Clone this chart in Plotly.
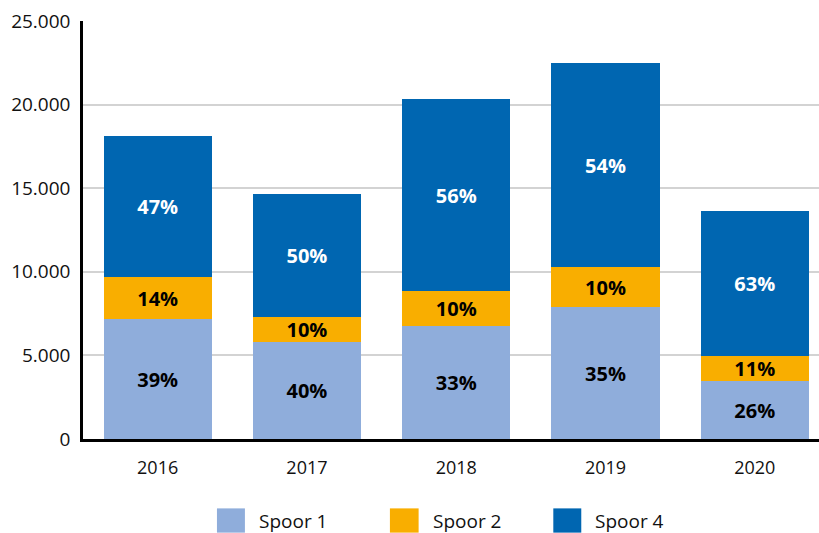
import plotly.graph_objects as go

# Jaarlijkse aantallen per spoor (gestapeld)
years = ["2016", "2017", "2018", "2019", "2020"]
spoor1 = [7160, 5806, 6760, 7876, 3461]
spoor2 = [2524, 1473, 2071, 2387, 1509]
spoor4 = [8454, 7381, 11515, 12231, 8694]

# Aandeel per spoor binnen elk jaar
pct1 = [39, 40, 33, 35, 26]
pct2 = [14, 10, 10, 10, 11]
pct4 = [47, 50, 56, 54, 63]

y_ticks = [0, 5000, 10000, 15000, 20000, 25000]

series = [
    ("Spoor 1", spoor1, pct1, "#8FADDB", "#000000"),
    ("Spoor 2", spoor2, pct2, "#F9AE00", "#000000"),
    ("Spoor 4", spoor4, pct4, "#0066B1", "#FFFFFF"),
]

FONT = "Open Sans"

fig = go.Figure()
for name, vals, pcts, color, tcolor in series:
    fig.add_trace(go.Bar(
        x=years, y=vals, name=name,
        marker=dict(color=color, line=dict(width=0)),
        text=[f"{p}%" for p in pcts],
        textposition="inside",
        insidetextanchor="middle",
        textangle=0,
        constraintext="none",
        textfont=dict(family=FONT, size=20, color=tcolor, weight="bold"),
        showlegend=False,
        hoverinfo="skip",
    ))

# Legenda: gekleurde blokjes met labels onder de grafiek
legend_x = [(0.182, 0.220, 0.236), (0.417, 0.456, 0.473), (0.639, 0.677, 0.693)]
for (name, _, _, color, _), (x0, x1, xt) in zip(series, legend_x):
    fig.add_shape(type="rect", xref="paper", yref="paper",
                  x0=x0, x1=x1, y0=-0.224, y1=-0.166,
                  fillcolor=color, line=dict(width=0))
    fig.add_annotation(text=name, xref="paper", yref="paper",
                       x=xt, y=-0.195, xanchor="left", yanchor="middle",
                       showarrow=False,
                       font=dict(family=FONT, size=19, color="#111111"))

fig.update_layout(
    width=819, height=533,
    margin=dict(l=83, r=0, t=21, b=94),
    barmode="stack",
    bargap=0.276,
    paper_bgcolor="white",
    plot_bgcolor="white",
    separators=",.",
    font=dict(family=FONT, size=17, color="#111111"),
)
fig.update_xaxes(
    type="category",
    range=[-0.5, 4.43],
    showline=True, linecolor="#000000", linewidth=2.5,
    ticks="outside", ticklen=11, tickcolor="rgba(0,0,0,0)",
    tickfont=dict(family=FONT, size=18, color="#111111"),
    showgrid=False,
)
fig.update_yaxes(
    range=[0, 25000],
    tickvals=y_ticks,
    tickformat=",d",
    showline=True, linecolor="#000000", linewidth=2.5,
    showgrid=True, gridcolor="#D3D3D3", gridwidth=1.5,
    zeroline=False,
    ticks="outside", ticklen=6, tickcolor="rgba(0,0,0,0)",
    tickfont=dict(family=FONT, size=19, color="#111111"),
)

fig.write_html("out.html")
